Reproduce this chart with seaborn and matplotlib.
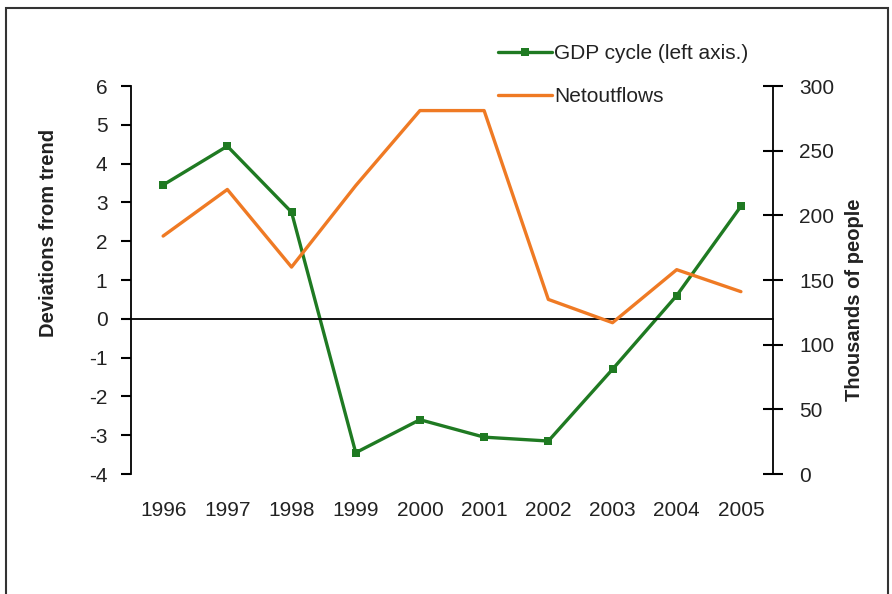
import matplotlib
matplotlib.use("Agg")
import matplotlib.pyplot as plt
import seaborn as sns
import pandas as pd
from matplotlib.patches import Rectangle

# data
years = ['1996', '1997', '1998', '1999', '2000', '2001', '2002', '2003', '2004', '2005']
gdp_cycle = [3.45, 4.45, 2.75, -3.45, -2.6, -3.05, -3.15, -1.3, 0.6, 2.9]
net_outflows = [184, 220, 160, 223, 281, 281, 135, 117, 158, 141]

df = pd.DataFrame({'pos': range(len(years)), 'year': years,
                   'gdp': gdp_cycle, 'outflows': net_outflows})

sns.set_theme(style='white')
plt.rcParams['font.family'] = ['Liberation Sans', 'DejaVu Sans']
plt.rcParams['axes.unicode_minus'] = False

green = '#1f7a22'
orange = '#ef7a24'

fig = plt.figure(figsize=(8.92, 5.94), dpi=100)
ax = fig.add_axes([0.1469, 0.2020, 0.7197, 0.6532])
ax2 = ax.twinx()

sns.lineplot(data=df, x='pos', y='gdp', ax=ax, color=green, lw=2.4,
             marker='s', markersize=6, markeredgewidth=0,
             label='GDP cycle (left axis.)', legend=False)
sns.lineplot(data=df, x='pos', y='outflows', ax=ax2, color=orange, lw=2.4,
             label='Netoutflows', legend=False)

ax.set_xlim(-0.5, len(years) - 0.5)
ax.set_ylim(-4, 6)
ax2.set_ylim(0, 300)

# spines
for s in ['top', 'right']:
    ax.spines[s].set_visible(False)
for s in ['top', 'left', 'bottom']:
    ax2.spines[s].set_visible(False)
ax.spines['bottom'].set_position(('data', 0))
for sp in [ax.spines['left'], ax.spines['bottom'], ax2.spines['right']]:
    sp.set_color('black')
    sp.set_linewidth(1.3)

# x axis: tick marks between categories, labels at the bottom
ax.set_xticks([p + 0.5 for p in range(len(years) - 1)])
ax.set_xticklabels([])
ax.set_xticks(list(df['pos']), labels=years, minor=True)
ax.tick_params(axis='x', which='major', direction='out', length=5, width=1.2, color='black')
ax.tick_params(axis='x', which='minor', length=0, pad=131, labelsize=15, labelcolor='#222222')

ax.set_yticks(range(-4, 7))
ax.tick_params(axis='y', direction='out', length=7, width=1.5, color='black',
               pad=10, labelsize=15, labelcolor='#222222', left=True)
ax2.set_yticks(range(0, 301, 50))
ax2.tick_params(axis='y', direction='inout', length=14, width=1.5, color='black',
                pad=12, labelsize=15, labelcolor='#222222', right=True)

ax.set_xlabel('')
ax.set_ylabel('')
ax2.set_ylabel('')
fig.text(49 / 892, 1 - 233 / 594, 'Deviations from trend', rotation=90,
         ha='center', va='center', fontsize=14.5, fontweight='bold', color='#222222')
fig.text(855 / 892, 1 - 300 / 594, 'Thousands of people', rotation=90,
         ha='center', va='center', fontsize=14.5, fontweight='bold', color='#222222')

h1, l1 = ax.get_legend_handles_labels()
h2, l2 = ax2.get_legend_handles_labels()
fig.legend(h1 + h2, l1 + l2, loc='upper left', bbox_to_anchor=(498 / 892, 1 - 44 / 594),
           frameon=False, fontsize=15, handlelength=2.6, handletextpad=0.1,
           labelspacing=1.15, borderpad=0, borderaxespad=0, numpoints=1,
           labelcolor='#222222')

# outer frame of the original figure
fig.patches.append(Rectangle((6 / 892, -0.05), 882 / 892, 1.05 - 8 / 594,
                             transform=fig.transFigure, fill=False,
                             edgecolor='#333333', linewidth=1.5))

fig.savefig('out.png', dpi=100, facecolor='white')
